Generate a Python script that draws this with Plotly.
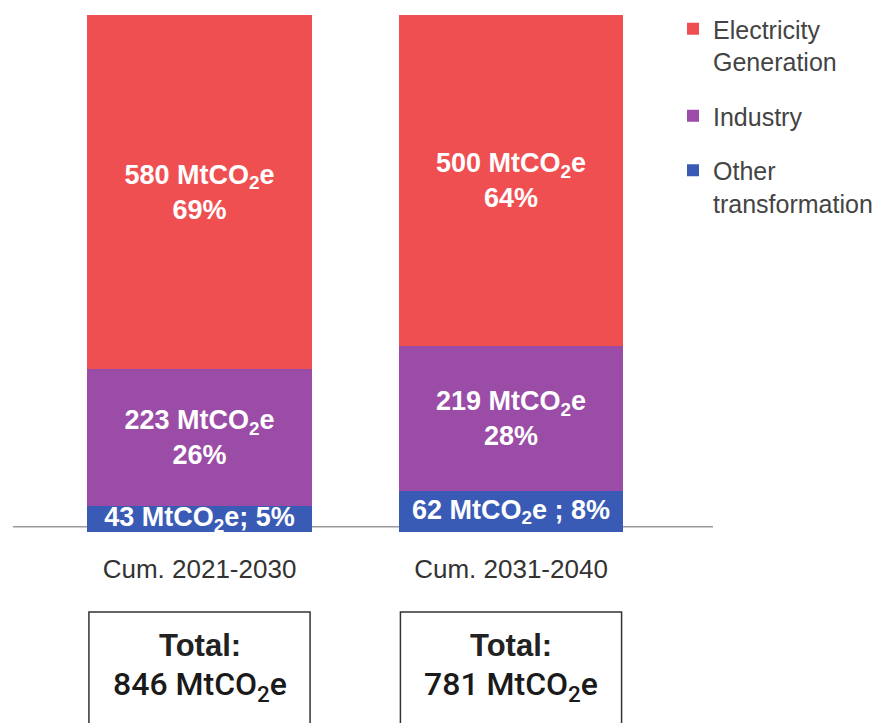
import plotly.graph_objects as go

# ---- data ----
periods = ["Cum. 2021-2030", "Cum. 2031-2040"]
sectors = ["Other transformation", "Industry", "Electricity Generation"]
legend_names = ["Other<br>transformation", "Industry", "Electricity<br>Generation"]
legend_ranks = [3, 2, 1]
values = {
    "Other transformation": [43, 62],
    "Industry": [223, 219],
    "Electricity Generation": [580, 500],
}
percents = {
    "Other transformation": [5, 8],
    "Industry": [26, 28],
    "Electricity Generation": [69, 64],
}
colors = {
    "Other transformation": "#3A5BB5",
    "Industry": "#9B4CA6",
    "Electricity Generation": "#F04F52",
}

totals = [sum(values[s][i] for s in sectors) for i in range(len(periods))]

W, H = 886, 723
FONT = "Liberation Sans, Arial, Helvetica, sans-serif"

fig = go.Figure()
for s, lname, rk in zip(sectors, legend_names, legend_ranks):
    if s == "Other transformation":
        sep = ["; ", " ; "]
        texts = [f"<b>{v} MtCO<sub>2</sub>e{sep[i]}{p}%</b>"
                 for i, (v, p) in enumerate(zip(values[s], percents[s]))]
    else:
        texts = [f"<b>{v} MtCO<sub>2</sub>e<br>{p}%</b>"
                 for v, p in zip(values[s], percents[s])]
    fig.add_trace(go.Bar(
        x=periods, y=values[s], name=lname, legendgroup=s, legendrank=rk,
        marker=dict(color=colors[s], line=dict(width=0)),
        width=0.72,
        text=texts, textposition="inside", insidetextanchor="middle",
        textfont=dict(color="white", size=27, family=FONT),
        constraintext="none", hoverinfo="skip",
    ))

# geometry (pixels -> domain)
x_left_px, x_right_px = 13, 713
c0_px, c1_px = 199.5, 511.0
unit = c1_px - c0_px
xr = [(x_left_px - c0_px) / unit, (x_right_px - c0_px) / unit]
y_top_px, y_bot_px = 15, 532

fig.update_layout(
    width=W, height=H,
    margin=dict(l=0, r=0, t=0, b=0),
    paper_bgcolor="white", plot_bgcolor="white",
    barmode="stack", barnorm="percent",
    uniformtext=dict(minsize=27, mode="show"),
    font=dict(family=FONT, color="#333"),
    xaxis=dict(domain=[x_left_px / W, x_right_px / W], range=xr,
               showgrid=False, zeroline=False, showline=False, ticks="",
               tickfont=dict(size=26, color="#333", family=FONT),
               ticklabelstandoff=19, fixedrange=True),
    yaxis=dict(domain=[1 - y_bot_px / H, 1 - y_top_px / H], range=[0, 100],
               showgrid=False, zeroline=False, showline=False,
               showticklabels=False, ticks="", fixedrange=True),
    legend=dict(x=673 / W, y=1 - 6 / H, xanchor="left", yanchor="top",
                traceorder="grouped", tracegroupgap=19,
                valign="top", font=dict(size=25, color="#444", family=FONT),
                bgcolor="rgba(0,0,0,0)"),
    showlegend=True,
)

# baseline
fig.add_shape(type="line", xref="x", yref="y", x0=xr[0], x1=xr[1],
              y0=1, y1=1, line=dict(color="#9A9A9A", width=1.5), layer="below")

# total boxes
def ppx(y_px):
    return 1 - y_px / H

for i, tot in enumerate(totals):
    fig.add_shape(type="rect", xref="x", yref="paper",
                  x0=i - 0.355, x1=i + 0.355, y0=ppx(740), y1=ppx(612),
                  line=dict(color="#333", width=1.5), fillcolor="rgba(0,0,0,0)")
    fig.add_annotation(x=i, y=ppx(645), xref="x", yref="paper",
                       text="<b>Total:</b>", showarrow=False,
                       font=dict(size=31, color="#222", family=FONT),
                       xanchor="center", yanchor="middle")
    fig.add_annotation(x=i, y=ppx(686), xref="x", yref="paper",
                       text=f"{tot} MtCO<sub>2</sub>e", showarrow=False,
                       font=dict(size=32, color="#1a1a1a",
                                 family="Roboto, " + FONT, weight=500),
                       xanchor="center", yanchor="middle")

fig.write_html("out.html")
